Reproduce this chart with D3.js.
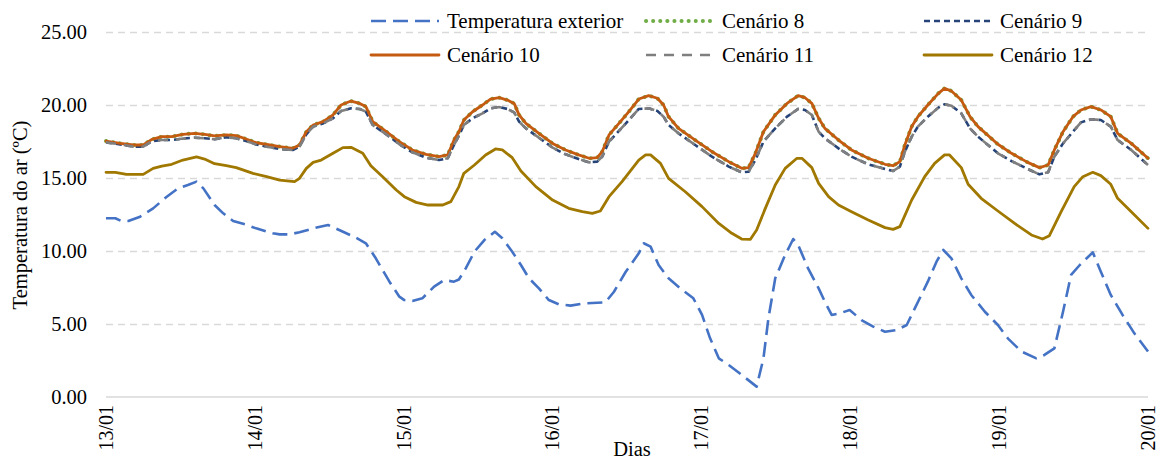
<!DOCTYPE html>
<html>
<head>
<meta charset="utf-8">
<script src="https://cdn.jsdelivr.net/npm/d3@7"></script>
<style>
  body { margin: 0; background: #fff; }
  text { font-family: "Liberation Serif", "Times New Roman", serif; fill: #000; }
</style>
</head>
<body>
<svg id="chart" width="1160" height="459"></svg>
<script>
// Day labels on the time axis (one per 24 h)
const dayLabels = ["13/01", "14/01", "15/01", "16/01", "17/01", "18/01", "19/01", "20/01"];
const dayHours = [0, 24, 48, 72, 96, 120, 144, 168];
const yTicks = [0, 5, 10, 15, 20, 25];

// Outdoor air temperature (hours since 13/01 00:00, °C)
const exteriorHours = [0, 1.5, 2.5, 3.6, 5.5, 7.6, 9.8, 11.6, 13.2, 14.6, 15.7, 17.5, 18.9, 20.5, 22.4, 24.2, 26.9,
  28.0, 29.6, 31.2, 33.4, 35.8, 37.6, 40.3, 41.9, 43.5, 45.7, 47.3, 48.1, 49.4, 51.0, 52.9, 54.5, 56.1,
  56.9, 58.0, 59.4, 61.0, 62.7, 63.9, 65.5, 66.9, 68.2, 69.8, 71.4, 73.0, 74.9, 77.3, 80.5, 81.9, 83.8,
  85.9, 86.7, 87.8, 89.1, 90.7, 92.6, 94.7, 96.1, 97.4, 98.8, 100.4, 102.5, 104.9, 106.0, 106.8, 107.9, 109.5, 110.8, 111.6, 113.2,
  114.9, 115.9, 117.0, 118.3, 119.9, 121.8, 123.7, 125.6, 127.5, 129.1, 130.4, 132.5, 133.9, 135.0, 136.3, 137.9, 139.5, 141.7,
  143.8, 145.4, 147.6, 150.0, 151.3, 152.9, 154.3, 155.6, 157.0, 159.1, 160.4, 162.0, 163.9, 165.8, 168];
const exteriorTemp = [12.24, 12.24, 12.05, 12.05, 12.35, 12.92, 13.72, 14.29, 14.52, 14.75, 14.29, 13.15, 12.58, 12.05, 11.83, 11.55, 11.21,
  11.14, 11.14, 11.28, 11.55, 11.78, 11.44, 10.91, 10.53, 9.50, 7.90, 6.87, 6.64, 6.58, 6.76, 7.56, 8.01, 7.90,
  8.05, 8.81, 9.95, 10.75, 11.32, 10.87, 9.95, 9.04, 8.13, 7.44, 6.64, 6.35, 6.26, 6.42, 6.48, 7.21, 8.58,
  9.84, 10.53, 10.30, 9.04, 8.13, 7.44, 6.76, 5.62, 4.02, 2.65, 2.19, 1.51, 0.71, 2.65, 5.39, 8.13, 9.73, 10.82, 10.41, 8.81,
  7.44, 6.53, 5.62, 5.73, 5.96, 5.27, 4.82, 4.47, 4.59, 4.93, 6.07, 7.90, 9.27, 10.07, 9.50, 8.13, 6.99, 5.84,
  4.93, 4.02, 3.11, 2.65, 2.88, 3.33, 5.84, 8.36, 9.04, 9.91, 8.58, 6.99, 5.62, 4.36, 3.11];

// Indoor air temperature, scenarios 8 to 11 (shared time stamps)
const scenarioHours = [0, 2.3, 4.4, 6.0, 7.4, 9.0, 10.6, 12.4, 14.3, 15.9, 17.5, 19.4, 21.0, 22.6, 24.2, 26.4, 28.0,
  30.1, 31.2, 32.3, 33.4, 35.0, 36.6, 37.9, 39.5, 40.9, 41.9, 43.0, 45.2, 47.3, 49.4, 51.6, 53.7, 55.1, 56.1,
  56.9, 57.7, 59.1, 60.7, 62.0, 63.4, 64.7, 65.8, 66.6, 67.7, 69.8, 72.0, 74.1, 76.2, 77.9, 79.2, 80.0, 81.1, 82.7, 84.3,
  85.9, 87.5, 88.9, 89.9, 90.7, 92.3, 95.0, 97.7, 100.4, 102.5, 103.6, 104.7, 106.0, 107.9, 109.8, 111.6, 112.7, 113.8,
  114.9, 115.9, 118.1, 120.2, 122.9, 125.6, 126.9, 128.0, 128.8, 129.9, 130.9, 132.5, 134.2, 135.2, 136.3, 137.9, 139.3, 140.6,
  143.8, 146.0, 148.6, 150.5, 151.9, 152.9, 154.3, 155.9, 157.2, 158.8, 160.4, 162.0, 163.1, 165.3, 168];
const cenario8 = [17.53, 17.37, 17.26, 17.26, 17.65, 17.83, 17.83, 17.99, 18.06, 17.99, 17.88, 17.95, 17.90, 17.67, 17.42, 17.26, 17.15,
  17.03, 17.26, 18.17, 18.63, 18.86, 19.32, 20.00, 20.27, 20.11, 19.89, 18.86, 18.17, 17.49, 16.92, 16.62, 16.46, 16.58, 17.60,
  18.17, 18.97, 19.54, 20.00, 20.41, 20.50, 20.34, 20.11, 19.32, 18.74, 18.06, 17.37, 16.92, 16.58, 16.35, 16.39, 16.80, 17.95, 18.74, 19.54,
  20.41, 20.64, 20.46, 20.00, 19.20, 18.40, 17.60, 16.80, 16.12, 15.66, 15.71, 16.69, 18.17, 19.32, 20.11, 20.64, 20.50, 20.11,
  19.09, 18.40, 17.60, 16.92, 16.35, 15.94, 15.84, 16.12, 17.26, 18.52, 19.20, 20.00, 20.80, 21.14, 20.96, 20.34, 19.20, 18.52,
  17.31, 16.69, 16.07, 15.71, 15.89, 16.92, 18.17, 19.20, 19.66, 19.89, 19.66, 19.20, 18.06, 17.37, 16.35];
const cenario9 = [17.44, 17.30, 17.15, 17.15, 17.53, 17.60, 17.60, 17.70, 17.76, 17.72, 17.65, 17.79, 17.72, 17.53, 17.30, 17.10, 16.99,
  16.92, 17.15, 17.99, 18.52, 18.74, 19.09, 19.59, 19.77, 19.73, 19.54, 18.63, 17.99, 17.31, 16.76, 16.39, 16.23, 16.35, 17.26,
  17.90, 18.63, 19.09, 19.43, 19.77, 19.86, 19.73, 19.50, 18.86, 18.40, 17.76, 17.08, 16.62, 16.30, 16.07, 16.12, 16.46, 17.49, 18.22, 18.97,
  19.73, 19.77, 19.59, 19.20, 18.63, 18.06, 17.26, 16.46, 15.78, 15.39, 15.43, 16.23, 17.49, 18.40, 19.20, 19.73, 19.66, 19.32,
  18.17, 17.72, 17.03, 16.46, 15.94, 15.62, 15.48, 15.78, 16.80, 17.83, 18.52, 19.20, 19.82, 20.05, 19.95, 19.43, 18.40, 17.83,
  16.69, 16.16, 15.62, 15.25, 15.39, 16.46, 17.37, 18.17, 18.81, 19.02, 18.97, 18.52, 17.60, 16.92, 15.89];
const cenario10 = [17.53, 17.37, 17.26, 17.26, 17.65, 17.83, 17.83, 17.99, 18.06, 17.99, 17.88, 17.95, 17.90, 17.67, 17.42, 17.26, 17.15,
  17.03, 17.26, 18.17, 18.63, 18.86, 19.32, 20.00, 20.27, 20.11, 19.89, 18.86, 18.17, 17.49, 16.92, 16.62, 16.46, 16.58, 17.60,
  18.17, 18.97, 19.54, 20.00, 20.41, 20.50, 20.34, 20.11, 19.32, 18.74, 18.06, 17.37, 16.92, 16.58, 16.35, 16.39, 16.80, 17.95, 18.74, 19.54,
  20.41, 20.64, 20.46, 20.00, 19.20, 18.40, 17.60, 16.80, 16.12, 15.66, 15.71, 16.69, 18.17, 19.32, 20.11, 20.64, 20.50, 20.11,
  19.09, 18.40, 17.60, 16.92, 16.35, 15.94, 15.84, 16.12, 17.26, 18.52, 19.20, 20.00, 20.80, 21.14, 20.96, 20.34, 19.20, 18.52,
  17.31, 16.69, 16.07, 15.71, 15.89, 16.92, 18.17, 19.20, 19.66, 19.89, 19.66, 19.20, 18.06, 17.37, 16.35];
const cenario11 = [17.44, 17.30, 17.15, 17.15, 17.53, 17.60, 17.60, 17.70, 17.76, 17.72, 17.65, 17.79, 17.72, 17.53, 17.30, 17.10, 16.99,
  16.92, 17.15, 17.99, 18.52, 18.74, 19.09, 19.59, 19.77, 19.73, 19.54, 18.63, 17.99, 17.31, 16.76, 16.39, 16.23, 16.35, 17.26,
  17.90, 18.63, 19.09, 19.43, 19.77, 19.86, 19.73, 19.50, 18.86, 18.40, 17.76, 17.08, 16.62, 16.30, 16.07, 16.12, 16.46, 17.49, 18.22, 18.97,
  19.73, 19.77, 19.59, 19.20, 18.63, 18.06, 17.26, 16.46, 15.78, 15.39, 15.43, 16.23, 17.49, 18.40, 19.20, 19.73, 19.66, 19.32,
  18.17, 17.72, 17.03, 16.46, 15.94, 15.62, 15.48, 15.78, 16.80, 17.83, 18.52, 19.20, 19.82, 20.05, 19.95, 19.43, 18.40, 17.83,
  16.69, 16.16, 15.62, 15.25, 15.39, 16.46, 17.37, 18.17, 18.81, 19.02, 18.97, 18.52, 17.60, 16.92, 15.89];

// Indoor air temperature, scenario 12
const cenario12Hours = [0, 1.5, 3.3, 6.0, 7.6, 9.0, 10.6, 12.4, 14.6, 15.9, 17.5, 19.4, 21.0, 23.7, 25.9, 28.0,
  30.4, 31.2, 32.3, 33.4, 34.7, 36.6, 38.2, 39.5, 41.4, 42.7, 44.6, 46.8, 48.1, 50.0, 51.9, 54.3, 55.6,
  56.9, 57.7, 59.4, 61.2, 62.8, 63.9, 65.5, 66.9, 69.3, 72.0, 74.6, 76.8, 78.4, 79.7, 81.1, 83.2,
  85.9, 87.0, 87.8, 89.4, 90.7, 93.4, 96.1, 98.8, 100.9, 102.5, 103.9, 104.9, 106.3, 107.9, 109.5, 111.4, 112.2, 113.8,
  114.9, 116.5, 118.1, 120.2, 122.9, 125.6, 126.9, 128.0, 129.9, 132.0, 133.6, 135.2, 136.0, 137.9, 139.0, 141.1,
  143.8, 146.5, 149.2, 151.0, 152.1, 154.0, 156.1, 157.5, 159.1, 160.4, 162.0, 163.1, 165.3, 168];
const cenario12 = [15.39, 15.39, 15.25, 15.25, 15.66, 15.82, 15.94, 16.23, 16.44, 16.30, 15.98, 15.84, 15.71, 15.32, 15.09, 14.86,
  14.75, 14.98, 15.66, 16.07, 16.23, 16.69, 17.08, 17.10, 16.69, 15.84, 15.09, 14.18, 13.72, 13.33, 13.15, 13.15, 13.38,
  14.41, 15.32, 15.89, 16.58, 16.99, 16.92, 16.39, 15.48, 14.41, 13.49, 12.92, 12.69, 12.58, 12.74, 13.72, 14.75,
  16.23, 16.58, 16.58, 16.00, 14.98, 14.06, 13.04, 11.89, 11.21, 10.82, 10.80, 11.44, 12.92, 14.52, 15.66, 16.35, 16.35, 15.71,
  14.63, 13.72, 13.15, 12.69, 12.12, 11.60, 11.48, 11.67, 13.49, 15.09, 16.00, 16.58, 16.58, 15.71, 14.57, 13.61,
  12.74, 11.89, 11.10, 10.82, 11.05, 12.69, 14.41, 15.09, 15.39, 15.16, 14.57, 13.61, 12.69, 11.55];

// Series styling, in drawing order
const series = [
  { name: "Temperatura exterior", hours: exteriorHours, values: exteriorTemp, color: "#4472c4", width: 2.6, dash: "15,7", cap: "butt" },
  { name: "Cenário 8", hours: scenarioHours, values: cenario8, color: "#70ad47", width: 4, dash: "0.1,7", cap: "round" },
  { name: "Cenário 9", hours: scenarioHours, values: cenario9, color: "#264478", width: 2.6, dash: "6,4", cap: "butt" },
  { name: "Cenário 10", hours: scenarioHours, values: cenario10, color: "#c55a11", width: 2.8, dash: null, cap: "round" },
  { name: "Cenário 11", hours: scenarioHours, values: cenario11, color: "#7f7f7f", width: 2.6, dash: "10,8", cap: "butt" },
  { name: "Cenário 12", hours: cenario12Hours, values: cenario12, color: "#a07800", width: 2.8, dash: null, cap: "round" }
];

const svg = d3.select("#chart");
const margin = { left: 106, right: 1148, top: 32, bottom: 397 };

const x = d3.scaleLinear().domain([0, 168]).range([margin.left, margin.right]);
const y = d3.scaleLinear().domain([0, 25]).range([margin.bottom, margin.top]);

// Horizontal gridlines (dashed) and the baseline
const grid = svg.append("g")
  .attr("transform", `translate(${margin.left},0)`)
  .call(d3.axisLeft(y).tickValues(yTicks.filter(d => d > 0)).tickSize(-(margin.right - margin.left)).tickFormat(""));
grid.select(".domain").remove();
grid.selectAll(".tick line").attr("stroke", "#d9d9d9").attr("stroke-width", 1.4).attr("stroke-dasharray", "7,5");

svg.append("line")
  .attr("x1", margin.left).attr("x2", margin.right)
  .attr("y1", y(0)).attr("y2", y(0))
  .attr("stroke", "#d9d9d9").attr("stroke-width", 1.6);

// Y axis labels
const yAxis = svg.append("g")
  .attr("transform", `translate(${margin.left - 16},0)`)
  .call(d3.axisLeft(y).tickValues(yTicks).tickSize(0).tickFormat(d3.format(".2f")));
yAxis.select(".domain").remove();
yAxis.selectAll("text").attr("font-size", 20.5).attr("font-family", "Liberation Serif").attr("fill", "#000");

// X axis labels (rotated day stamps)
const xAxis = svg.append("g")
  .attr("transform", `translate(0,${margin.bottom})`)
  .call(d3.axisBottom(x).tickValues(dayHours).tickSize(0).tickFormat((d, i) => dayLabels[i]));
xAxis.select(".domain").remove();
xAxis.selectAll("text")
  .attr("font-size", 20).attr("font-family", "Liberation Serif").attr("fill", "#000")
  .attr("transform", "rotate(-90)")
  .attr("text-anchor", "end")
  .attr("x", -8).attr("y", 0).attr("dy", "0.32em");

// Axis titles
svg.append("text")
  .attr("x", 632).attr("y", 456)
  .attr("text-anchor", "middle").attr("font-size", 20.5)
  .text("Dias");
svg.append("text")
  .attr("transform", `translate(27,215) rotate(-90)`)
  .attr("text-anchor", "middle").attr("font-size", 20.5)
  .text("Temperatura do ar (ºC)");

// Lines
const line = d3.line().x(d => x(d[0])).y(d => y(d[1]));
series.forEach(s => {
  const pts = s.hours.map((h, i) => [h, s.values[i]]);
  svg.append("path")
    .datum(pts)
    .attr("fill", "none")
    .attr("stroke", s.color)
    .attr("stroke-width", s.width)
    .attr("stroke-linejoin", "round")
    .attr("stroke-linecap", s.cap)
    .attr("stroke-dasharray", s.dash)
    .attr("d", line);
});

// Legend: two rows of three entries
const legendCols = [371, 646, 924];
const legendRows = [21, 55];
const legend = svg.append("g");
series.forEach((s, i) => {
  const gx = legendCols[i % 3];
  const gy = legendRows[Math.floor(i / 3)];
  legend.append("line")
    .attr("x1", gx).attr("x2", gx + 68)
    .attr("y1", gy).attr("y2", gy)
    .attr("stroke", s.color).attr("stroke-width", s.width)
    .attr("stroke-linecap", s.cap)
    .attr("stroke-dasharray", s.dash);
  legend.append("text")
    .attr("x", gx + 76).attr("y", gy).attr("dy", "0.35em")
    .attr("font-size", 21)
    .text(s.name);
});
</script>
</body>
</html>
